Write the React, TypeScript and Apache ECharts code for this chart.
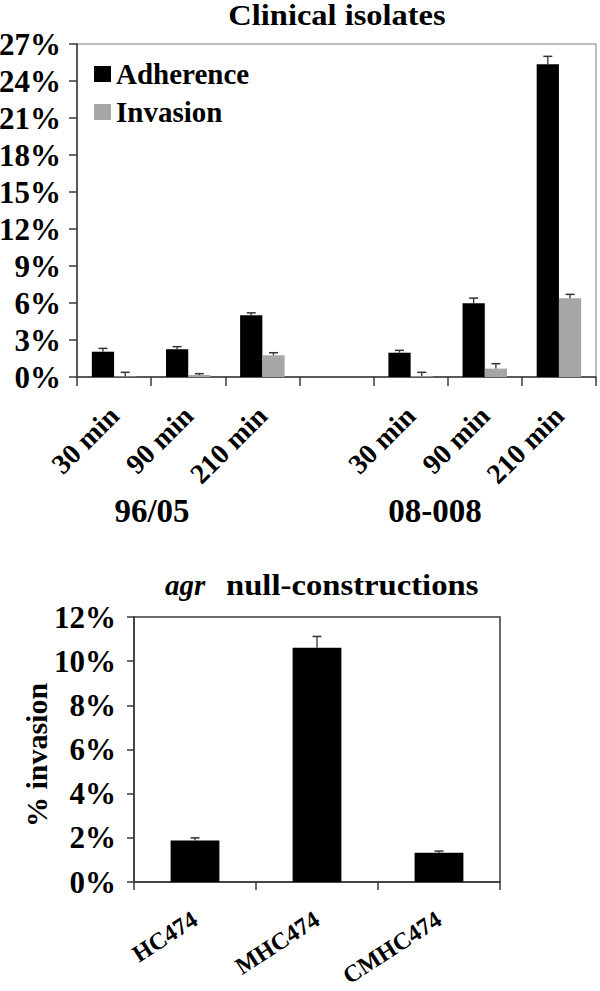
import React, { useEffect, useRef } from "react";
import * as echarts from "echarts";

const topCategories = ["30 min", "90 min", "210 min", "", "30 min", "90 min", "210 min"];
const adherence = [2.05, 2.25, 5.0, null, 1.97, 5.98, 25.35];
const adherenceErr = [0.27, 0.21, 0.2, null, 0.19, 0.42, 0.65];
const invasion = [0.05, 0.16, 1.76, null, 0.06, 0.68, 6.38];
const invasionErr = [0.33, 0.11, 0.21, null, 0.32, 0.4, 0.32];
const topTicks = { min: 0, max: 27, interval: 3 };
const groupLabels = ["96/05", "08-008"];

const bottomCategories = ["HC474", "MHC474", "CMHC474"];
const bottomInvasion = [1.88, 10.61, 1.33];
const bottomErr = [0.12, 0.51, 0.07];
const bottomTicks = { min: 0, max: 12, interval: 2 };

const FONT = "'Liberation Serif', 'Times New Roman', serif";
const AXIS_COLOR = "#3a3a3a";
const BORDER_GRAY = "#a8a8a8";
const ERR_COLOR = "#333333";

function errTriples(vals: (number | null)[], errs: (number | null)[]) {
  const out: number[][] = [];
  vals.forEach((v, i) => {
    if (v !== null && errs[i] !== null) out.push([i, v, errs[i] as number]);
  });
  return out;
}

function makeErrorRender(offsetFactor: number, gapRatio: number, barsPerCat: number) {
  return (params: any, api: any) => {
    const idx = api.value(0);
    const v = api.value(1);
    const e = api.value(2);
    const base = api.coord([idx, v]);
    const top = api.coord([idx, v + e]);
    const band = api.size([1, 0])[0];
    const bw = (band * (1 - gapRatio)) / barsPerCat;
    const x = base[0] + offsetFactor * bw;
    const cap = 4.5;
    return {
      type: "group",
      children: [
        { type: "line", shape: { x1: x, y1: base[1], x2: x, y2: top[1] }, style: { stroke: ERR_COLOR, lineWidth: 1.3 } },
        { type: "line", shape: { x1: x - cap, y1: top[1], x2: x + cap, y2: top[1] }, style: { stroke: ERR_COLOR, lineWidth: 1.5 } },
      ],
    };
  };
}

export default function App() {
  const ref = useRef<HTMLDivElement>(null);

  useEffect(() => {
    if (!ref.current) return;
    const chart = echarts.init(ref.current, null, { renderer: "svg" });

    const labelBase = { color: "#000", fontFamily: FONT, fontWeight: "bold" as const };

    const option: any = {
      animation: false,
      backgroundColor: "#fff",
      legend: {
        data: ["Adherence", "Invasion"],
        orient: "vertical",
        left: 94,
        top: 59,
        padding: 0,
        itemWidth: 17,
        itemHeight: 16,
        itemGap: 8,
        icon: "rect",
        textStyle: { ...labelBase, fontSize: 29, lineHeight: 30 },
      },
      grid: [
        {
          left: 77, top: 44, width: 519, height: 333,
          show: true, borderColor: BORDER_GRAY, borderWidth: 1.5, backgroundColor: "transparent",
          containLabel: false, outerBoundsMode: "none",
        },
        {
          left: 134, top: 617, width: 366, height: 265,
          show: true, borderColor: AXIS_COLOR, borderWidth: 1.5, backgroundColor: "transparent",
          containLabel: false, outerBoundsMode: "none",
        },
      ],
      xAxis: [
        {
          type: "category",
          gridIndex: 0,
          data: topCategories,
          axisLine: { lineStyle: { color: AXIS_COLOR, width: 1.5 } },
          axisTick: { show: true, length: 9, lineStyle: { color: AXIS_COLOR, width: 1.5 } },
          axisLabel: { ...labelBase, fontSize: 28, rotate: 45, margin: 34, interval: 0 },
        },
        {
          type: "category",
          gridIndex: 1,
          data: bottomCategories,
          axisLine: { lineStyle: { color: AXIS_COLOR, width: 1.5 } },
          axisTick: { show: true, length: 8, lineStyle: { color: AXIS_COLOR, width: 1.5 } },
          axisLabel: { ...labelBase, fontSize: 24, rotate: 33, margin: 35, interval: 0 },
        },
      ],
      yAxis: [
        {
          type: "value",
          gridIndex: 0,
          min: topTicks.min,
          max: topTicks.max,
          interval: topTicks.interval,
          axisLine: { show: true, lineStyle: { color: AXIS_COLOR, width: 1.5 } },
          axisTick: { show: true, length: 8, lineStyle: { color: AXIS_COLOR, width: 1.5 } },
          splitLine: { show: false },
          axisLabel: { ...labelBase, fontSize: 31, margin: 16, formatter: "{value}%" },
        },
        {
          type: "value",
          gridIndex: 1,
          min: bottomTicks.min,
          max: bottomTicks.max,
          interval: bottomTicks.interval,
          axisLine: { show: true, lineStyle: { color: AXIS_COLOR, width: 1.5 } },
          axisTick: { show: true, length: 7, lineStyle: { color: AXIS_COLOR, width: 1.5 } },
          splitLine: { show: false },
          axisLabel: { ...labelBase, fontSize: 31, margin: 18, formatter: "{value}%" },
        },
      ],
      series: [
        {
          name: "Adherence",
          type: "bar",
          xAxisIndex: 0,
          yAxisIndex: 0,
          data: adherence,
          itemStyle: { color: "#000" },
          barGap: "0%",
          barCategoryGap: "40%",
        },
        {
          name: "Invasion",
          type: "bar",
          xAxisIndex: 0,
          yAxisIndex: 0,
          data: invasion,
          itemStyle: { color: "#a6a6a6" },
          barGap: "0%",
          barCategoryGap: "40%",
        },
        {
          name: "adhErr",
          type: "custom",
          xAxisIndex: 0,
          yAxisIndex: 0,
          data: errTriples(adherence, adherenceErr),
          encode: { x: 0, y: 1 },
          renderItem: makeErrorRender(-0.5, 0.4, 2),
          z: 5,
        },
        {
          name: "invErr",
          type: "custom",
          xAxisIndex: 0,
          yAxisIndex: 0,
          data: errTriples(invasion, invasionErr),
          encode: { x: 0, y: 1 },
          renderItem: makeErrorRender(0.5, 0.4, 2),
          z: 5,
        },
        {
          name: "% invasion",
          type: "bar",
          xAxisIndex: 1,
          yAxisIndex: 1,
          data: bottomInvasion,
          itemStyle: { color: "#000" },
          barCategoryGap: "60%",
        },
        {
          name: "bottomErr",
          type: "custom",
          xAxisIndex: 1,
          yAxisIndex: 1,
          data: errTriples(bottomInvasion, bottomErr),
          encode: { x: 0, y: 1 },
          renderItem: makeErrorRender(0, 0.6, 1),
          z: 5,
        },
      ],
      graphic: [
        {
          type: "text",
          x: 337,
          y: 15.5,
          scaleX: 1.12,
          style: { text: "Clinical isolates", font: `bold 29px ${FONT}`, fill: "#000", align: "center", verticalAlign: "middle" },
        },
        {
          type: "text",
          x: 152,
          y: 510.5,
          style: { text: groupLabels[0], font: `bold 33px ${FONT}`, fill: "#000", align: "center", verticalAlign: "middle" },
        },
        {
          type: "text",
          x: 435,
          y: 510.5,
          style: { text: groupLabels[1], font: `bold 33px ${FONT}`, fill: "#000", align: "center", verticalAlign: "middle" },
        },
        {
          type: "text",
          x: 165,
          y: 585,
          style: { text: "agr", font: `italic bold 29px ${FONT}`, fill: "#000", align: "left", verticalAlign: "middle" },
        },
        {
          type: "text",
          x: 226,
          y: 585,
          scaleX: 1.09,
          style: { text: "null-constructions", font: `bold 30px ${FONT}`, fill: "#000", align: "left", verticalAlign: "middle" },
        },
        {
          type: "text",
          x: 36,
          y: 755,
          rotation: Math.PI / 2,
          style: { text: "% invasion", font: `bold 30px ${FONT}`, fill: "#000", align: "center", verticalAlign: "middle" },
        },
      ],
    };

    chart.setOption(option);
    return () => chart.dispose();
  }, []);

  return (
    <div
      ref={ref}
      style={{ position: "absolute", left: 0, top: 0, width: 600, height: 991, background: "#fff" }}
    />
  );
}
